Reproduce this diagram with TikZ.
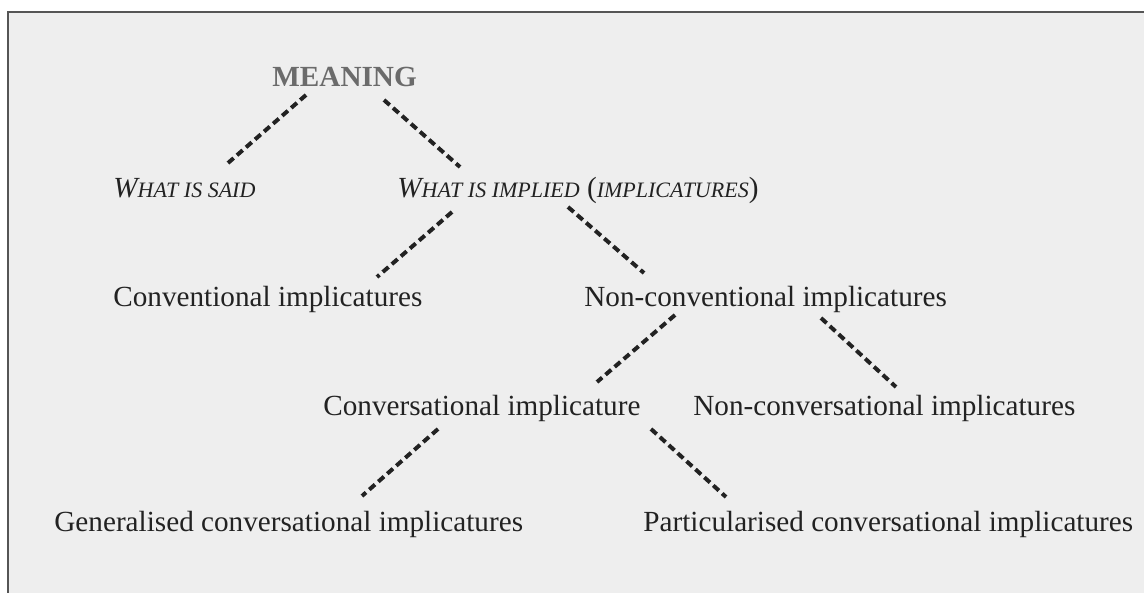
\documentclass[tikz,border=0pt]{standalone}
\usepackage{fontspec}
\setmainfont{Liberation Serif}
\usetikzlibrary{calc}
\definecolor{panelgray}{HTML}{EEEEEE}
\definecolor{framegray}{HTML}{555555}
\definecolor{headgray}{HTML}{6B6B6B}
\definecolor{inkblack}{HTML}{222222}
\newcommand{\smc}[1]{{\fontsize{11}{13}\selectfont #1}}

\begin{document}
\begin{tikzpicture}[x=0.5pt,y=-0.5pt,
    term/.style={anchor=base west,inner sep=0pt,text=inkblack,font=\fontsize{14.6}{17}\selectfont},
    link/.style={line width=2pt,dash pattern=on 3.8pt off 2.2pt,inkblack}]
        \useasboundingbox (0,0) rectangle (1144,593);
        \fill[white] (0,0) rectangle (1144,593);
        \draw[framegray,line width=0.8pt,fill=panelgray] (8,12) rectangle (1150,600);

        \node (meaning) [term,text=headgray,font=\fontsize{14.6}{17}\selectfont\bfseries] at (272,87) {MEANING};
        \node (said) [term] at (113,198) {\itshape W\smc{HAT IS SAID}};
        \node (implied) [term] at (397,198) {\textit{W\smc{HAT IS IMPLIED}} (\textit{\smc{IMPLICATURES}})};
        \node (conv) [term] at (113,306) {Conventional implicatures};
        \node (nonconv) [term] at (584,306) {Non-conventional implicatures};
        \node (convers) [term] at (323,415) {Conversational implicature};
        \node (nonconvers) [term] at (693,415) {Non-conversational implicatures};
        \node (gen) [term] at (54,531) {Generalised conversational implicatures};
        \node (part) [term] at (643,531) {Particularised conversational implicatures};

        \draw[link] ($(meaning.base west)+(34,8)$) -- ($(said.base west)+(115,-35)$);
        \draw[link] ($(meaning.base west)+(112,13)$) -- ($(implied.base west)+(63,-31)$);
        \draw[link] ($(implied.base west)+(55,14)$) -- ($(conv.base west)+(264,-29)$);
        \draw[link] ($(implied.base west)+(171,9)$) -- ($(nonconv.base west)+(60,-33)$);
        \draw[link] ($(nonconv.base west)+(91,9)$) -- ($(convers.base west)+(274,-33)$);
        \draw[link] ($(nonconv.base west)+(237,12)$) -- ($(nonconvers.base west)+(203,-28)$);
        \draw[link] ($(convers.base west)+(115,14)$) -- ($(gen.base west)+(308,-35)$);
        \draw[link] ($(convers.base west)+(328,14)$) -- ($(part.base west)+(83,-34)$);
\end{tikzpicture}
\end{document}
